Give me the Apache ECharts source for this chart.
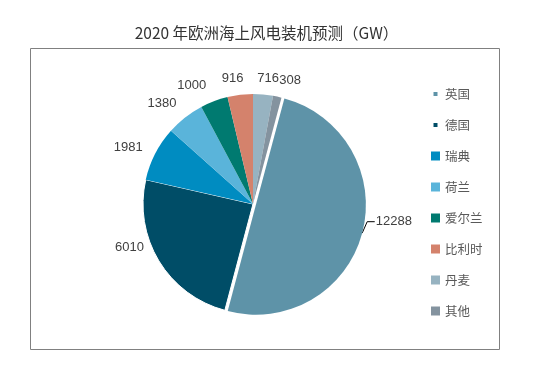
<!DOCTYPE html>
<html>
<head>
<meta charset="utf-8">
<script src="https://cdn.jsdelivr.net/npm/echarts@6/dist/echarts.min.js"></script>
<style>html,body{margin:0;padding:0;background:#fff}#c{width:533px;height:382px}</style>
</head>
<body>
<div id="c"></div>
<script>
var categories = ['英国', '德国', '瑞典', '荷兰', '爱尔兰', '比利时', '丹麦', '其他'];
var values = [12288, 6010, 1981, 1380, 1000, 916, 716, 308];
var colors = ['#5e93a8', '#004d67', '#008cc1', '#5ab4da', '#007a70', '#d4826c', '#97b3c1', '#84939f'];
var titleText = '2020 年欧洲海上风电装机预测（GW）';

// small per-label nudges (layout config, not data)
var labelNudge = [[-3, -15], [0, -21], [3, 0], [3, -3], [0, -3], [8, -2], [-10, -2], [-4, -3]];

var chart = echarts.init(document.getElementById('c'), null, {renderer: 'canvas'});
var smallIcon = 'path://M0,0M9,9M2.5,2.5h4v4h-4z';
var data = categories.map(function (n, i) {
  var d = {name: n, value: values[i], itemStyle: {color: colors[i]}};
  if (i === 0) {
    d.selected = true;
    d.labelLine = {show: true};
  }
  if (i === 1) {
    d.itemStyle.borderColor = '#fff';
    d.itemStyle.borderWidth = 1;
  }
  return d;
});
var legendData = categories.map(function (n, i) {
  return i < 2 ? {name: n, icon: smallIcon} : {name: n, icon: 'rect'};
});
chart.setOption({
  animation: false,
  title: {
    text: titleText, left: 'center', top: 20,
    textStyle: {fontFamily: 'Noto Sans CJK SC', fontSize: 15.5, fontWeight: 'normal', color: '#333'}
  },
  graphic: [{
    type: 'rect', shape: {x: 30.5, y: 48.5, width: 469, height: 301},
    style: {fill: 'none', stroke: '#808080', lineWidth: 1}, silent: true, z: -1
  }],
  legend: {
    orient: 'vertical', left: 426, top: 82, itemWidth: 9, itemHeight: 9, itemGap: 17,
    data: legendData, selectedMode: false,
    itemStyle: {borderWidth: 0},
    textStyle: {fontFamily: 'Noto Sans CJK SC', fontSize: 12.5, lineHeight: 14, color: '#595959'}
  },
  series: [{
    type: 'pie', center: [253, 204], radius: 110, startAngle: 75, clockwise: true,
    selectedMode: 'single', selectedOffset: 3,
    avoidLabelOverlap: false,
    itemStyle: {borderWidth: 0},
    label: {show: true, position: 'outside', formatter: '{c}', color: '#404040',
      fontFamily: 'Liberation Sans', fontSize: 13, distanceToLabelLine: 3},
    labelLine: {show: false, length: 14, length2: 0, lineStyle: {color: '#000', width: 1}},
    labelLayout: function (p) {
      var n = labelNudge[p.dataIndex];
      var out = {dx: n[0], dy: n[1]};
      if (p.dataIndex === 0 && p.labelLinePoints) {
        var p0 = p.labelLinePoints[0];
        var cy = p.labelRect.y + p.labelRect.height / 2 + n[1];
        var lx = p.labelRect.x + n[0] - 1;
        out.labelLinePoints = [[p0[0], p0[1]], [p0[0] + 5, cy], [lx, cy]];
      }
      return out;
    },
    emphasis: {disabled: true},
    data: data
  }]
});
</script>
</body>
</html>
